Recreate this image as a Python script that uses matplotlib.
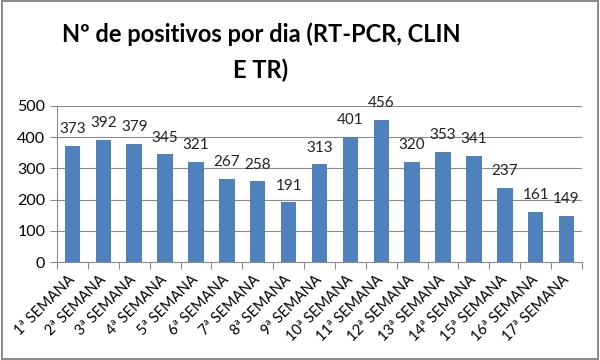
import matplotlib.pyplot as plt
import numpy as np

plt.rcParams['font.family'] = ['Lato', 'DejaVu Sans']

semanas = ['%dª SEMANA' % i for i in range(1, 18)]
positivos = [373, 392, 379, 345, 321, 267, 258, 191, 313, 401, 456, 320, 353, 341, 237, 161, 149]

fig = plt.figure(figsize=(6, 3.6), dpi=100)
ax = fig.add_axes([0.095, 0.272, 0.875, 0.434])

x = np.arange(len(semanas))
ax.bar(x, positivos, width=0.5, color='#4F81BD', zorder=3)
for xi, v in zip(x, positivos):
    ax.annotate(str(v), (xi, v), xytext=(0, 7), textcoords='offset points',
                ha='center', va='bottom', fontsize=11, color='#222222')

ax.set_xlim(-0.5, len(semanas) - 0.5)
ax.set_ylim(0, 500)
ax.set_yticks(range(0, 501, 100))
ax.yaxis.grid(True, color='#8c8c8c', linewidth=0.8, zorder=0)
ax.set_xticks(np.arange(-0.5, len(semanas), 1))
ax.set_xticklabels([])
ax.set_xticks(x, minor=True)
ax.set_xticklabels(semanas, minor=True, rotation=45, ha='right', va='center',
                   rotation_mode='anchor', fontsize=10.5)
ax.tick_params(axis='x', which='major', length=5, direction='out', color='#8c8c8c')
ax.tick_params(axis='x', which='minor', length=0, pad=11)
ax.tick_params(axis='y', length=5, direction='out', color='#8c8c8c', labelsize=11.5)
for s in ['top', 'right']:
    ax.spines[s].set_visible(False)
for s in ['left', 'bottom']:
    ax.spines[s].set_color('#8c8c8c')

fig.text(0.435, 0.939, 'Nº de positivos por dia (RT-PCR, CLIN\nE TR)', ha='center', va='top',
         fontsize=17, fontweight='bold', linespacing=1.68)

border = plt.Rectangle((0.003, 0.004), 0.994, 0.992, transform=fig.transFigure,
                       fill=False, edgecolor='#8c8c8c', linewidth=1.5)
fig.patches.append(border)

fig.savefig('out.png', dpi=100)
